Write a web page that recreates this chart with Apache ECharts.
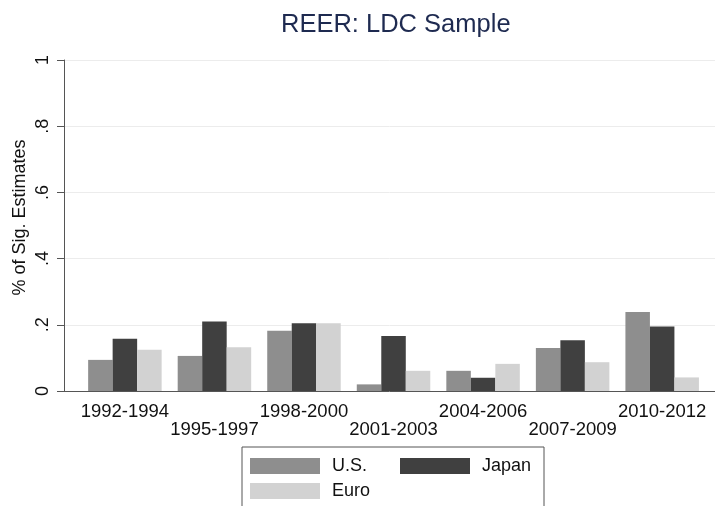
<!DOCTYPE html>
<html>
<head>
<meta charset="utf-8">
<script src="https://cdn.jsdelivr.net/npm/echarts@6/dist/echarts.min.js"></script>
<style>
  html, body { margin: 0; padding: 0; background: #fff; }
  #chart { width: 715px; height: 506px; }
</style>
</head>
<body>
<div id="chart"></div>
<script>
const periods = ['1992-1994', '1995-1997', '1998-2000', '2001-2003', '2004-2006', '2007-2009', '2010-2012'];
const usValues = [0.094, 0.106, 0.182, 0.020, 0.061, 0.130, 0.239];
const japanValues = [0.158, 0.210, 0.205, 0.166, 0.040, 0.153, 0.195];
const euroValues = [0.125, 0.132, 0.205, 0.061, 0.082, 0.087, 0.041];
const yTicks = [0, 0.2, 0.4, 0.6, 0.8, 1];
const yTickLabels = ['0', '.2', '.4', '.6', '.8', '1'];

const font = 'Liberation Sans, Arial, sans-serif';
const positions = periods.map((p, i) => i + 1);

const toPoints = vals => vals.map((v, i) => [positions[i], v]);

const myChart = echarts.init(document.getElementById('chart'));
myChart.setOption({
  animation: false,
  backgroundColor: '#fff',
  title: {
    text: 'REER: LDC Sample',
    left: 276,
    top: 7,
    textStyle: {
      color: '#1e2a50',
      fontFamily: font,
      fontWeight: 'normal',
      fontSize: 25.5,
    },
  },
  grid: {
    left: 64,
    right: 0,
    top: 60,
    bottom: 115,
    outerBoundsMode: 'none',
  },
  legend: {
    data: ['U.S.', 'Japan', 'Euro'],
    left: 242,
    top: 447,
    width: 300,
    padding: [10, 1, 10, 8],
    itemGap: 7,
    itemWidth: 70,
    itemHeight: 16,
    icon: 'rect',
    borderColor: '#555',
    borderWidth: 1,
    backgroundColor: '#fff',
    textStyle: {
      color: '#111',
      fontFamily: font,
      fontSize: 18,
      lineHeight: 18,
      width: 61,
      padding: [0, 0, 0, 7],
    },
  },
  xAxis: {
    type: 'value',
    min: 0.32,
    max: 7.59,
    splitLine: { show: false },
    axisTick: { show: false },
    axisLine: { lineStyle: { color: '#555', width: 1 } },
    axisLabel: {
      customValues: positions,
      margin: 12,
      color: '#111',
      fontFamily: font,
      fontSize: 18.5,
      lineHeight: 18,
      formatter: v => {
        const i = Math.round(v) - 1;
        return i % 2 === 1 ? '\n' + periods[i] : periods[i];
      },
    },
  },
  yAxis: {
    type: 'value',
    min: 0,
    max: 1,
    interval: 0.2,
    name: '% of Sig. Estimates',
    nameLocation: 'middle',
    nameGap: 35,
    nameMoveOverlap: false,
    nameTextStyle: {
      color: '#111',
      fontFamily: font,
      fontSize: 18,
      padding: [0, 0, 0, 16],
    },
    axisLine: { show: true, lineStyle: { color: '#555', width: 1 } },
    axisTick: { show: true, length: 7, lineStyle: { color: '#555' } },
    splitLine: { show: true, lineStyle: { color: '#ececec', width: 1 } },
    axisLabel: {
      rotate: 90,
      margin: 12,
      color: '#111',
      fontFamily: font,
      fontSize: 18,
      formatter: v => {
        const i = yTicks.findIndex(t => Math.abs(t - v) < 1e-6);
        return i >= 0 ? yTickLabels[i] : '';
      },
    },
  },
  series: [
    {
      name: 'U.S.',
      type: 'bar',
      barWidth: 24.5,
      barGap: '0%',
      data: toPoints(usValues),
      itemStyle: { color: '#8e8e8e' },
    },
    {
      name: 'Japan',
      type: 'bar',
      barWidth: 24.5,
      barGap: '0%',
      data: toPoints(japanValues),
      itemStyle: { color: '#404040' },
    },
    {
      name: 'Euro',
      type: 'bar',
      barWidth: 24.5,
      barGap: '0%',
      data: toPoints(euroValues),
      itemStyle: { color: '#d2d2d2' },
    },
  ],
});
</script>
</body>
</html>
